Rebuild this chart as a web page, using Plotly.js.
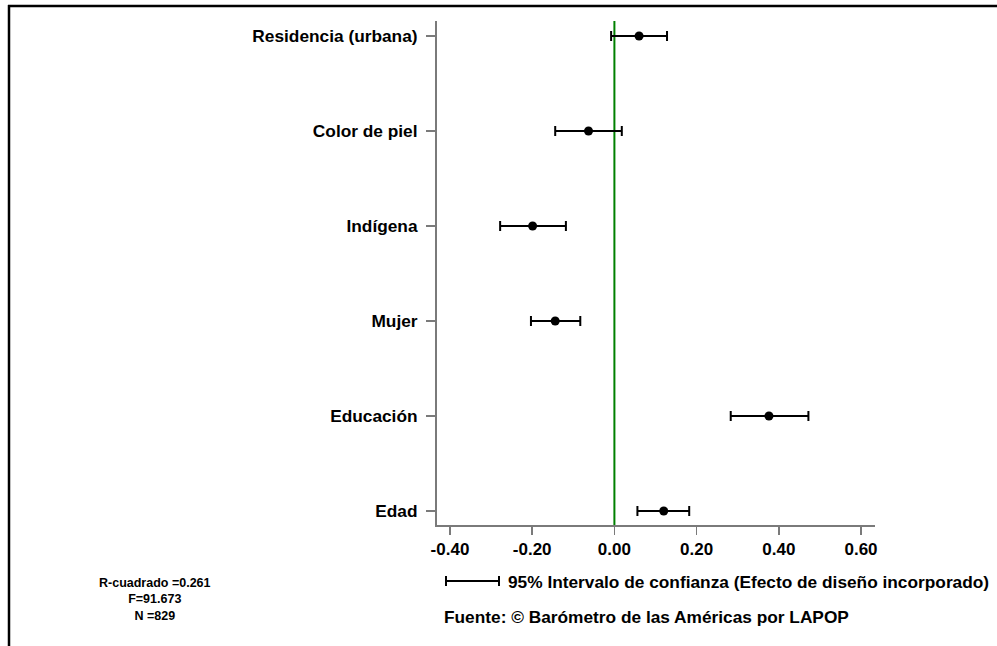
<!DOCTYPE html>
<html>
<head>
<meta charset="utf-8">
<script src="https://cdn.plot.ly/plotly-3.0.1.min.js"></script>
<style>
html,body{margin:0;padding:0;background:#fff;}
#chart{width:997px;height:646px;}
</style>
</head>
<body>
<div id="chart"></div>
<script>
// Data
const categories = ["Edad", "Educación", "Mujer", "Indígena", "Color de piel", "Residencia (urbana)"];
const coefficients = [0.120, 0.376, -0.144, -0.199, -0.063, 0.060];
const lowerCI = [0.056, 0.283, -0.203, -0.278, -0.144, -0.008];
const upperCI = [0.182, 0.472, -0.083, -0.118, 0.018, 0.128];
const xTickVals = [-0.4, -0.2, 0, 0.2, 0.4, 0.6];
const xTickText = ["-0.40", "-0.20", "0.00", "0.20", "0.40", "0.60"];
const statsLines = ["R-cuadrado =0.261", "F=91.673", "N =829"];
const legendText = "95% Intervalo de confianza (Efecto de diseño incorporado)";
const sourceText = "Fuente: © Barómetro de las Américas por LAPOP";

const errPlus = coefficients.map((c, i) => upperCI[i] - c);
const errMinus = coefficients.map((c, i) => c - lowerCI[i]);

const FONT = "Liberation Sans, Arial, Helvetica, sans-serif";

// pixel -> paper helpers (plot area: x 437..875, y 21..525)
const L = 437, R = 875, T = 21, B = 525;
const px = x => (x - L) / (R - L);
const py = y => (B - y) / (B - T);

const trace = {
  type: "scatter",
  mode: "markers",
  x: coefficients,
  y: categories,
  marker: {color: "#000", size: 9},
  error_x: {
    type: "data", symmetric: false,
    array: errPlus, arrayminus: errMinus,
    color: "#000", thickness: 2, width: 5
  },
  hoverinfo: "x+y",
  showlegend: false
};

const shapes = [
  // zero reference line
  {type: "line", xref: "x", yref: "paper", x0: 0, x1: 0, y0: 0, y1: 1,
   line: {color: "#008000", width: 2}, layer: "below"},
  // legend icon
  {type: "line", xref: "paper", yref: "paper", x0: px(446), x1: px(499), y0: py(581), y1: py(581),
   line: {color: "#000", width: 2}},
  {type: "line", xref: "paper", yref: "paper", x0: px(446), x1: px(446), y0: py(576), y1: py(586),
   line: {color: "#000", width: 2}},
  {type: "line", xref: "paper", yref: "paper", x0: px(499), x1: px(499), y0: py(576), y1: py(586),
   line: {color: "#000", width: 2}},
  // outer frame (top and left)
  {type: "line", xref: "paper", yref: "paper", x0: px(8), x1: px(997), y0: py(6), y1: py(6),
   line: {color: "#000", width: 2.5}},
  {type: "line", xref: "paper", yref: "paper", x0: px(9), x1: px(9), y0: py(5), y1: py(646),
   line: {color: "#000", width: 2.5}}
];

const annotations = [
  {xref: "paper", yref: "paper", x: px(155), y: py(599), text: statsLines.join("<br>"), showarrow: false,
   xanchor: "center", yanchor: "middle", align: "center",
   font: {family: FONT, size: 12.5, color: "#000", weight: 700}},
  {xref: "paper", yref: "paper", x: px(506), y: py(582), text: legendText, showarrow: false,
   xanchor: "left", yanchor: "middle",
   font: {family: FONT, size: 17.3, color: "#000", weight: 700}},
  {xref: "paper", yref: "paper", x: px(442), y: py(617), text: sourceText, showarrow: false,
   xanchor: "left", yanchor: "middle",
   font: {family: FONT, size: 17.3, color: "#000", weight: 700}}
];

const layout = {
  width: 997, height: 646,
  margin: {l: L, r: 997 - R, t: T, b: 646 - B, pad: 0},
  paper_bgcolor: "#fff", plot_bgcolor: "#fff",
  font: {family: FONT, color: "#000"},
  xaxis: {
    range: [-0.4316, 0.634],
    tickvals: xTickVals, ticktext: xTickText,
    showgrid: false, zeroline: false,
    showline: true, linecolor: "#7a7a7a", linewidth: 2,
    ticks: "outside", ticklen: 8, tickwidth: 1.5, tickcolor: "#7a7a7a",
    tickfont: {family: FONT, size: 17, color: "#000", weight: 700},
    fixedrange: true
  },
  yaxis: {
    type: "category",
    categoryorder: "array", categoryarray: categories,
    range: [-0.147, 5.158],
    showgrid: false, zeroline: false,
    showline: true, linecolor: "#7a7a7a", linewidth: 2,
    ticks: "outside", ticklen: 9, tickwidth: 1.5, tickcolor: "#7a7a7a",
    ticklabelstandoff: 5,
    tickfont: {family: FONT, size: 17.3, color: "#000", weight: 700},
    fixedrange: true
  },
  shapes: shapes,
  annotations: annotations
};

Plotly.newPlot("chart", [trace], layout, {displayModeBar: false, staticPlot: true});
</script>
</body>
</html>
